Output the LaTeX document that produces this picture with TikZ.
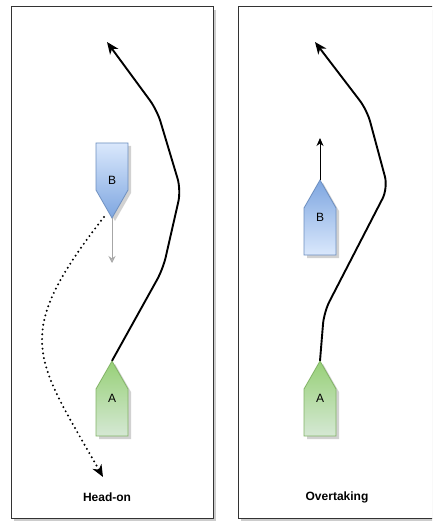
\documentclass[tikz,border=0pt]{standalone}
\usepackage{fontspec}
\setmainfont{Liberation Sans}
\usetikzlibrary{arrows.meta,calc}
\definecolor{bluelight}{HTML}{DAE8FC}
\definecolor{bluedark}{HTML}{7EA6E0}
\definecolor{bluestroke}{HTML}{6C8EBF}
\definecolor{greenlight}{HTML}{D5E8D4}
\definecolor{greendark}{HTML}{97D077}
\definecolor{greenstroke}{HTML}{82B366}
\begin{document}
\begin{tikzpicture}[x=1pt,y=-1pt,
  panel/.style={draw=black!80, fill=white, line width=1pt, inner sep=0pt,
    minimum width=202pt, minimum height=511pt},
  panelshadow/.style={fill=black!20},
  boatlabel/.style={inner sep=0pt, minimum width=32pt, minimum height=75pt,
    font=\fontsize{12}{14}\selectfont},
  boatshadow/.style={fill=black!18},
  blueboat/.style={draw=bluestroke, line width=0.8pt},
  greenboat/.style={draw=greenstroke, line width=0.8pt, top color=greendark, bottom color=greenlight},
  route/.style={draw=black, line width=1.9pt, rounded corners=12pt,
    -{Stealth[length=12pt,width=10pt,inset=3.5pt]}},
  dotroute/.style={draw=black, line width=2.2pt, line cap=round, dash pattern=on 0pt off 4.8pt,
    -{Stealth[length=12pt,width=10pt,inset=3.5pt,line cap=butt]}},
  grayarrow/.style={draw=black!35, line width=0.9pt,
    -{Stealth[length=7pt,width=7pt,inset=2.5pt,fill=black!15]}},
  smallarrow/.style={draw=black, line width=1pt,
    -{Stealth[length=8pt,width=7pt,inset=2.5pt]}},
  caption/.style={font=\bfseries\fontsize{12}{14}\selectfont, inner sep=0pt}
]
\useasboundingbox (0,0) rectangle (432,521);
\clip (0,0) rectangle (432,521);

% panels
\fill[panelshadow] (14,10) rectangle (216,521);
\node[panel] (leftpanel) at (112,262.5) {};
\fill[panelshadow] (241,10) rectangle (443,521);
\node[panel] (rightpanel) at (339,262.5) {};

% boat shadows
\fill[boatshadow] (99,146) -- (131,146) -- (131,193) -- (115,221) -- (99,193) -- cycle;
\fill[boatshadow] (115,364) -- (131,392) -- (131,439) -- (99,439) -- (99,392) -- cycle;
\fill[boatshadow] (323,183) -- (339,211) -- (339,258) -- (307,258) -- (307,211) -- cycle;
\fill[boatshadow] (323,364) -- (339,392) -- (339,439) -- (307,439) -- (307,392) -- cycle;

% boats
\shade[blueboat, top color=bluelight, bottom color=bluedark]
  (96,143) -- (128,143) -- (128,190) -- (112,218) -- (96,190) -- cycle;
\shade[greenboat]
  (112,361) -- (128,389) -- (128,436) -- (96,436) -- (96,389) -- cycle;
\shade[blueboat, top color=bluedark, bottom color=bluelight]
  (320,180) -- (336,208) -- (336,255) -- (304,255) -- (304,208) -- cycle;
\shade[greenboat]
  (320,361) -- (336,389) -- (336,436) -- (304,436) -- (304,389) -- cycle;

% boat labels
\node[boatlabel] (LB) at (112,180.5) {B};
\node[boatlabel] (LA) at (112,398.5) {A};
\node[boatlabel] (RB) at (320,217.5) {B};
\node[boatlabel] (RA) at (320,398.5) {A};

% free ends
\coordinate (LAend) at (107,42);
\coordinate (RAend) at (315,42);
\coordinate (LBend) at (112,263);
\coordinate (RBend) at (320,138);
\coordinate (dotstart) at (104,217);
\coordinate (dotend) at (103,477);

% routes
\draw[route] (LA.north) -- (163,269) -- (181,190) -- (157,110) -- (LAend);
\draw[route] (RA.north) -- (324,312) -- (388,188) -- (367,110) -- (RAend);
\draw[dotroute] (dotstart) .. controls (10,337) and (35,357) .. (dotend);
\draw[grayarrow] (LB.south) -- (LBend);
\draw[smallarrow] (RB.north) -- (RBend);

% captions
\node[caption] (cap1) at (107,497) {Head-on};
\node[caption] (cap2) at (337,497) {Overtaking};
\end{tikzpicture}
\end{document}
